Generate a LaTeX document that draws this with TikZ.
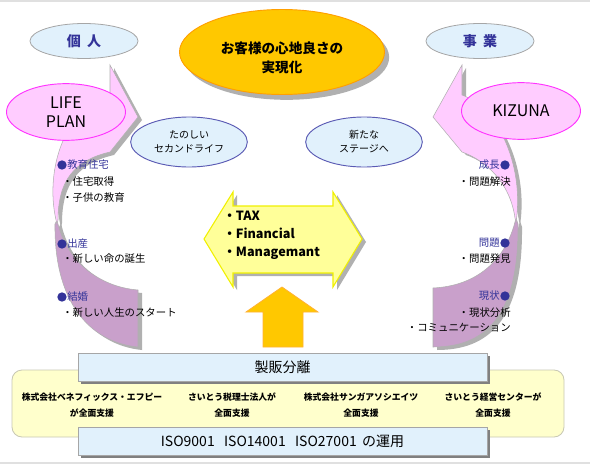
\documentclass[tikz,border=0pt]{standalone}
\usepackage{fontspec}
\setmainfont{Noto Sans CJK JP}
\usetikzlibrary{shapes.geometric,shadows}
\definecolor{lblue}{HTML}{E1F1FC}
\definecolor{ellgray}{HTML}{A6A6A6}
\definecolor{gold}{HTML}{FFC800}
\definecolor{goldedge}{HTML}{FF9F00}
\definecolor{pinkf}{HTML}{FFCCFF}
\definecolor{magedge}{HTML}{FF33FF}
\definecolor{purp}{HTML}{C9A0CB}
\definecolor{blueedge}{HTML}{5A5AB4}
\definecolor{navy}{HTML}{333399}
\definecolor{yfill}{HTML}{FFFF99}
\definecolor{yedge}{HTML}{F0F000}
\definecolor{cream}{HTML}{FFFFCC}
\definecolor{creamedge}{HTML}{C8C8B4}
\definecolor{shd}{HTML}{B0B0B0}
\definecolor{boxshd}{HTML}{808080}
\definecolor{framec}{HTML}{E0E0E0}
\tikzset{
  ell/.style={ellipse, inner sep=0pt, align=center},
  headell/.style={ell, fill=lblue, draw=ellgray, line width=0.6pt, text=navy,
    font=\fontsize{10.5}{12}\selectfont\bfseries, minimum width=81pt, minimum height=26.25pt},
  pinkell/.style={ell, fill=pinkf, draw=magedge, line width=0.7pt,
    font=\fontsize{12}{14.5}\selectfont, minimum width=89.25pt, minimum height=42.5pt},
  blueell/.style={ell, fill=lblue, draw=blueedge, line width=0.7pt,
    font=\fontsize{7.5}{10.5}\selectfont, minimum width=87.5pt, minimum height=37.5pt},
  lbl/.style={inner sep=0pt, font=\fontsize{7.8}{10}\selectfont},
  navylbl/.style={lbl, text=navy},
  bul/.style={circle, fill=navy, inner sep=0pt, minimum size=7pt},
  arrowline/.style={draw=shd, line width=0.4pt},
  bigbox/.style={draw=boxshd!70, line width=0.6pt, fill=lblue, minimum width=306.75pt,
    minimum height=21pt, inner sep=0pt, font=\fontsize{10.5}{12}\selectfont,
    drop shadow={shadow xshift=2.4pt, shadow yshift=-2.4pt, fill=boxshd, opacity=1}},
  company/.style={align=center, inner sep=0pt, font=\fontsize{6.6}{12}\selectfont\bfseries}
}
\def\leftpink{(57,224) .. controls (44,175) and (62,110) .. (110,95) -- (110,65) -- (138,117) -- (110,152) .. controls (75,160) and (58,180) .. (58,220) -- cycle}
\def\leftpurple{(138,347) .. controls (88,342) and (54,300) .. (55,224) -- (57,220) .. controls (66,262) and (100,287) .. (138,290) -- cycle}
\def\rightpink{(516,222) .. controls (524,172) and (502,110) .. (462,95) -- (462,65) -- (433,117) -- (462,152) .. controls (485,160) and (510,182) .. (515,218) -- cycle}
\def\rightpurple{(433,347) .. controls (484,347) and (519,318) .. (518,224) -- (516,218) .. controls (506,262) and (475,286) .. (433,288) -- cycle}
\def\dblarrow{(204,239) -- (233,192) -- (233,206) -- (333,206) -- (333,192) -- (362,239) -- (333,287) -- (333,273) -- (233,273) -- (233,287) -- cycle}
\begin{document}
\begin{tikzpicture}[x=0.75pt,y=-0.75pt]
\useasboundingbox (0,0) rectangle (590,464);
\fill[white] (0,0) rectangle (590,464);
\draw[framec, line width=1.5pt] (0,1) -- (590,1);
\draw[framec, line width=1.5pt] (0,462.5) -- (590,462.5);

% arrow shadows
\begin{scope}[shift={(4,3)}]
  \fill[shd] \leftpurple;
  \fill[shd] \leftpink;
  \fill[shd] \rightpurple;
  \fill[shd] \rightpink;
  \fill[shd] \dblarrow;
\end{scope}
% curved arrows
\path[fill=purp, arrowline] \leftpurple;
\path[fill=pinkf, arrowline] \leftpink;
\path[fill=purp, arrowline] \rightpurple;
\path[fill=pinkf, arrowline] \rightpink;

% double arrow
\path[fill=yfill, draw=yedge, line width=0.8pt] \dblarrow;
\node[anchor=west, align=left, inner sep=0pt, font=\fontsize{9.5}{13.5}\selectfont\bfseries] (tfm) at (223,235)
  {・TAX\\・Financial\\・Managemant};

% up arrow
\path[fill=gold, draw=goldedge!80, line width=0.6pt] (282,287) -- (318,312) -- (303,312) -- (303,347) -- (263,347) -- (263,312) -- (246,312) -- cycle;

% ellipses
\node[headell] (kojin) at (84,41) {個\hspace{0.45em}人};
\node[headell] (jigyo) at (480,41) {事\hspace{0.45em}業};
\node[ell, fill=gold, draw=goldedge, line width=0.7pt, minimum width=153.75pt, minimum height=63.75pt,
  font=\fontsize{10.2}{14.2}\selectfont\bfseries,
  drop shadow={shadow xshift=3.5pt, shadow yshift=-4pt, fill=shd, opacity=1}] (goal) at (282,52) {};
\node[align=center, inner sep=0pt, font=\fontsize{10.2}{14.2}\selectfont\bfseries] (goaltxt) at (282,57.5) {お客様の心地良さの\\実現化};
\node[pinkell] (life) at (66,112) {LIFE\\PLAN};
\node[pinkell] (kizuna) at (521,111) {KIZUNA};
\node[blueell] (tanoshii) at (189,142) {たのしい\\セカンドライフ};
\node[blueell] (aratana) at (364,142) {新たな\\ステージへ};

% left labels
\node[bul] (b1) at (62,165) {};
\node[navylbl, anchor=west] (l1) at (67,165) {教育住宅};
\node[lbl, anchor=west] (l1a) at (62,182) {・住宅取得};
\node[lbl, anchor=west] (l1b) at (62,198) {・子供の教育};
\node[bul] (b2) at (62,244) {};
\node[navylbl, anchor=west] (l2) at (67,244) {出産};
\node[lbl, anchor=west] (l2a) at (62,259) {・新しい命の誕生};
\node[bul] (b3) at (62,297) {};
\node[navylbl, anchor=west] (l3) at (67,297) {結婚};
\node[lbl, anchor=west] (l3a) at (62,313) {・新しい人生のスタート};

% right labels
\node[bul] (r1) at (505,165) {};
\node[navylbl, anchor=east] (rl1) at (500,165) {成長};
\node[lbl, anchor=east] (rl1a) at (511,182) {・問題解決};
\node[bul] (r2) at (505,243) {};
\node[navylbl, anchor=east] (rl2) at (500,243) {問題};
\node[lbl, anchor=east] (rl2a) at (511,259) {・問題発見};
\node[bul] (r3) at (505,296) {};
\node[navylbl, anchor=east] (rl3) at (500,296) {現状};
\node[lbl, anchor=east] (rl3a) at (511,313) {・現状分析};
\node[lbl, anchor=east] (rl3b) at (511,328) {・コミュニケーション};

% bottom
\draw[fill=cream, draw=creamedge, line width=0.6pt, rounded corners=7.5pt] (12,370) rectangle (564,437);
\node[bigbox] (seihan) at (282.5,367) {製販分離};
\node[bigbox] (iso) at (282.5,441) {ISO9001\hspace{7pt}ISO14001\hspace{7pt}ISO27001\hspace{4pt}の運用};
\node[company] (c1) at (92,405) {株式会社ベネフィックス・エフピー\\が全面支援};
\node[company] (c2) at (232,405) {さいとう税理士法人が\\全面支援};
\node[company] (c3) at (361,405) {株式会社サンガアソシエイツ\\全面支援};
\node[company] (c4) at (493,405) {さいとう経営センターが\\全面支援};
\end{tikzpicture}
\end{document}
